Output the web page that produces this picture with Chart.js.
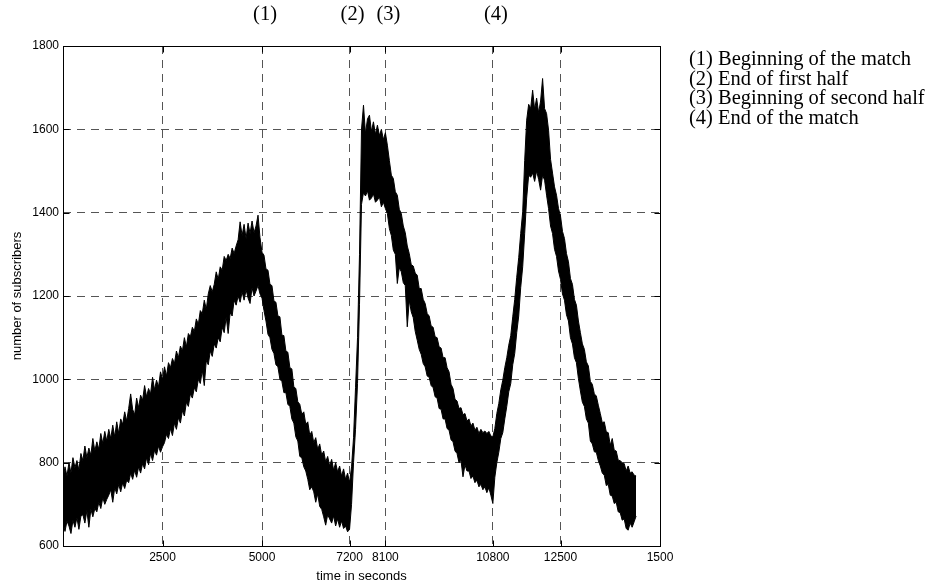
<!DOCTYPE html>
<html>
<head>
<meta charset="utf-8">
<title>Number of subscribers during the match</title>
<script src="https://cdn.jsdelivr.net/npm/chart.js@4.4.1/dist/chart.umd.min.js"></script>
<style>
  html, body { margin: 0; padding: 0; background: #fff; }
  #wrap { width: 928px; height: 584px; }
</style>
</head>
<body>
<div id="wrap"><canvas id="subsChart" width="928" height="584"></canvas></div>
<script>
// Sampling step of the trace (seconds)
const SAMPLE_STEP = 50;

// Upper edge of the noisy trace, one value every 50 s from t = 0 to t = 14400
const upperCount = [
    760, 790, 768, 800, 775, 812, 788, 805, 782, 822,
    805, 840, 812, 835, 818, 858, 828, 850, 832, 870,
    846, 875, 852, 880, 858, 890, 862, 898, 870, 905,
    892, 922, 900, 930, 965, 928, 915, 955, 932, 962,
    950, 985, 958, 978, 965, 1005, 975, 998, 982, 1018,
    1000, 1030, 1008, 1040, 1028, 1050, 1038, 1068, 1052, 1080,
    1068, 1100, 1078, 1110, 1102, 1125, 1115, 1145, 1132, 1165,
    1158, 1190, 1168, 1205, 1225, 1210, 1228, 1258, 1240, 1270,
    1262, 1295, 1285, 1300, 1290, 1315, 1302, 1320, 1335, 1378,
    1345, 1372, 1338, 1375, 1350, 1380, 1352, 1368, 1394, 1340,
    1305, 1298, 1265, 1262, 1228, 1225, 1188, 1185, 1152, 1150,
    1106, 1105, 1068, 1065, 1028, 1025, 982, 978, 946, 940,
    916, 922, 892, 898, 866, 875, 848, 860, 832, 845,
    818, 828, 802, 815, 792, 808, 782, 800, 778, 792,
    768, 785, 760, 775, 752, 790, 860, 980, 1100, 1300,
    1600, 1658, 1590, 1625, 1634, 1595, 1618, 1588, 1610, 1585,
    1600, 1575, 1592, 1562, 1525, 1490, 1482, 1450, 1442, 1408,
    1398, 1368, 1352, 1320, 1302, 1275, 1272, 1255, 1250, 1218,
    1218, 1192, 1182, 1158, 1152, 1128, 1125, 1102, 1100, 1078,
    1075, 1052, 1052, 1028, 1018, 988, 978, 952, 948, 930,
    932, 915, 918, 900, 905, 888, 895, 878, 885, 870,
    880, 872, 876, 870, 875, 864, 862, 882, 918, 942,
    975, 998, 1028, 1052, 1082, 1105, 1150, 1192, 1245, 1292,
    1350, 1402, 1525, 1622, 1660, 1650, 1694, 1648, 1675, 1640,
    1668, 1722, 1650, 1638, 1598, 1528, 1495, 1462, 1442, 1410,
    1392, 1355, 1338, 1302, 1282, 1242, 1228, 1192, 1178, 1140,
    1112, 1085, 1072, 1042, 1032, 995, 988, 965, 960, 938,
    918, 896, 898, 874, 872, 842, 858, 830, 828, 806,
    805, 800, 798, 780, 792, 775, 778, 770, 768
];

// Lower edge of the noisy trace, same sampling
const lowerCount = [
    655, 635, 660, 648, 630, 662, 645, 668, 640, 672,
    675, 655, 685, 645, 688, 670, 690, 682, 705, 690,
    716, 700, 712, 722, 735, 705, 740, 725, 748, 730,
    752, 738, 758, 752, 775, 760, 782, 765, 790, 775,
    798, 785, 812, 795, 822, 805, 830, 818, 840, 825,
    838, 848, 868, 858, 882, 865, 895, 880, 908, 895,
    925, 912, 945, 935, 965, 955, 980, 970, 1000, 990,
    1022, 985, 1045, 1035, 1068, 1055, 1085, 1075, 1100, 1090,
    1125, 1112, 1150, 1110, 1160, 1152, 1190, 1178, 1200, 1185,
    1210, 1190, 1215, 1195, 1182, 1220, 1200, 1212, 1225, 1205,
    1195, 1165, 1140, 1108, 1100, 1072, 1062, 1035, 1030, 1000,
    995, 968, 968, 940, 935, 905, 895, 862, 852, 815,
    812, 790, 780, 760, 735, 742, 730, 705, 725, 695,
    688, 670, 650, 675, 665, 655, 672, 648, 665, 645,
    660, 642, 648, 634, 640, 700, 800, 880, 990, 1180,
    1420, 1448, 1440, 1452, 1430, 1435, 1445, 1425, 1430, 1438,
    1414, 1425, 1410, 1398, 1362, 1345, 1310, 1300, 1230, 1268,
    1258, 1232, 1225, 1126, 1190, 1162, 1148, 1115, 1094, 1072,
    1060, 1038, 1030, 1008, 1005, 985, 980, 958, 955, 930,
    928, 905, 905, 882, 878, 855, 850, 828, 822, 800,
    805, 766, 795, 780, 780, 762, 768, 752, 758, 742,
    748, 735, 742, 728, 740, 722, 702, 765, 800, 825,
    858, 872, 905, 935, 970, 990, 1035, 1062, 1112, 1152,
    1220, 1270, 1350, 1435, 1490, 1485, 1495, 1475, 1500, 1480,
    1454, 1490, 1478, 1442, 1410, 1368, 1350, 1312, 1295, 1260,
    1240, 1205, 1190, 1155, 1140, 1100, 1085, 1052, 1040, 1002,
    972, 945, 935, 905, 895, 852, 845, 826, 825, 805,
    792, 775, 770, 745, 748, 722, 720, 702, 705, 682,
    680, 662, 665, 642, 638, 655, 645, 658, 672
];

// Axis ticks (the last label is cut in the original figure)
const xTicks = [0, 2500, 5000, 7200, 8100, 10800, 12500, 15000];
const xTickLabels = ['', '2500', '5000', '7200', '8100', '10800', '12500', '1500'];
const yTicks = [600, 800, 1000, 1200, 1400, 1600, 1800];

// Match events
const eventTimes = [5000, 7200, 8100, 10800];
const eventMarks = ['(1)', '(2)', '(3)', '(4)'];
const eventNotes = [
    '(1) Beginning of the match',
    '(2) End of first half',
    '(3) Beginning of second half',
    '(4) End of the match'
];

const sampleTimes = upperCount.map((_, i) => i * SAMPLE_STEP);

// Box, inward ticks, event numbers and notes
const frameAndNotes = {
    id: 'frameAndNotes',
    afterDraw(chart) {
        const ctx = chart.ctx;
        const area = chart.chartArea;
        const xs = chart.scales.x;
        const ys = chart.scales.y;
        const left = Math.round(area.left) + 0.5;
        const top = Math.round(area.top) + 0.5;
        const right = Math.round(area.right) + 0.5;
        const bottom = Math.round(area.bottom) + 0.5;

        ctx.save();
        ctx.strokeStyle = '#000';
        ctx.lineWidth = 1;
        ctx.setLineDash([]);
        ctx.strokeRect(left, top, right - left, bottom - top);

        ctx.beginPath();
        xTicks.forEach(v => {
            const px = Math.round(xs.getPixelForValue(v)) + 0.5;
            ctx.moveTo(px, top); ctx.lineTo(px, top + 6);
            ctx.moveTo(px, bottom); ctx.lineTo(px, bottom - 6);
        });
        yTicks.forEach(v => {
            const py = Math.round(ys.getPixelForValue(v)) + 0.5;
            ctx.moveTo(left, py); ctx.lineTo(left + 6, py);
            ctx.moveTo(right, py); ctx.lineTo(right - 6, py);
        });
        ctx.stroke();

        ctx.fillStyle = '#000';
        ctx.font = '20.5px "Liberation Serif", "Times New Roman", serif';
        ctx.textBaseline = 'alphabetic';
        ctx.textAlign = 'center';
        eventTimes.forEach((t, i) => {
            ctx.fillText(eventMarks[i], xs.getPixelForValue(t) + 3, 20);
        });

        ctx.textAlign = 'left';
        eventNotes.forEach((s, i) => {
            ctx.fillText(s, area.right + 29, 65 + i * 19.7);
        });
        ctx.restore();
    }
};

Chart.defaults.font.family = '"Liberation Sans", Arial, sans-serif';
Chart.defaults.color = '#000';

const ctx = document.getElementById('subsChart').getContext('2d');
new Chart(ctx, {
    type: 'line',
    data: {
        datasets: [{
            label: 'lower',
            data: sampleTimes.map((t, i) => ({ x: t, y: lowerCount[i] })),
            borderColor: '#000',
            borderWidth: 1,
            pointRadius: 0,
            fill: false,
            tension: 0
        }, {
            label: 'number of subscribers',
            data: sampleTimes.map((t, i) => ({ x: t, y: upperCount[i] })),
            borderColor: '#000',
            backgroundColor: '#000',
            borderWidth: 1,
            pointRadius: 0,
            fill: '-1',
            tension: 0
        }]
    },
    options: {
        responsive: false,
        animation: false,
        events: [],
        layout: {
            padding: { left: 0, right: 268, top: 46, bottom: 0 }
        },
        plugins: {
            legend: { display: false },
            tooltip: { enabled: false },
            filler: { propagate: false }
        },
        scales: {
            x: {
                type: 'linear',
                min: 0,
                max: 15000,
                afterBuildTicks: (scale) => {
                    scale.ticks = xTicks.map(v => ({ value: v }));
                },
                afterFit: (scale) => { scale.height = 38; },
                ticks: {
                    autoSkip: false,
                    maxRotation: 0,
                    minRotation: 0,
                    padding: 4,
                    font: { size: 12 },
                    callback: (value) => xTickLabels[xTicks.indexOf(value)]
                },
                grid: {
                    color: '#555',
                    lineWidth: 1,
                    drawTicks: false
                },
                border: { display: false, dash: [8, 6] },
                title: {
                    display: true,
                    text: 'time in seconds',
                    font: { size: 13 },
                    padding: { top: 0, bottom: 0 }
                }
            },
            y: {
                min: 600,
                max: 1800,
                afterBuildTicks: (scale) => {
                    scale.ticks = yTicks.map(v => ({ value: v }));
                },
                afterFit: (scale) => { scale.width = 63; },
                ticks: {
                    padding: 4,
                    font: { size: 12 },
                    callback: (value) => String(value)
                },
                grid: {
                    color: '#555',
                    lineWidth: 1,
                    drawTicks: false
                },
                border: { display: false, dash: [8, 6] },
                title: {
                    display: true,
                    text: 'number of subscribers',
                    font: { size: 13 },
                    padding: { top: 10, bottom: 0 }
                }
            }
        }
    },
    plugins: [frameAndNotes]
});
</script>
</body>
</html>
